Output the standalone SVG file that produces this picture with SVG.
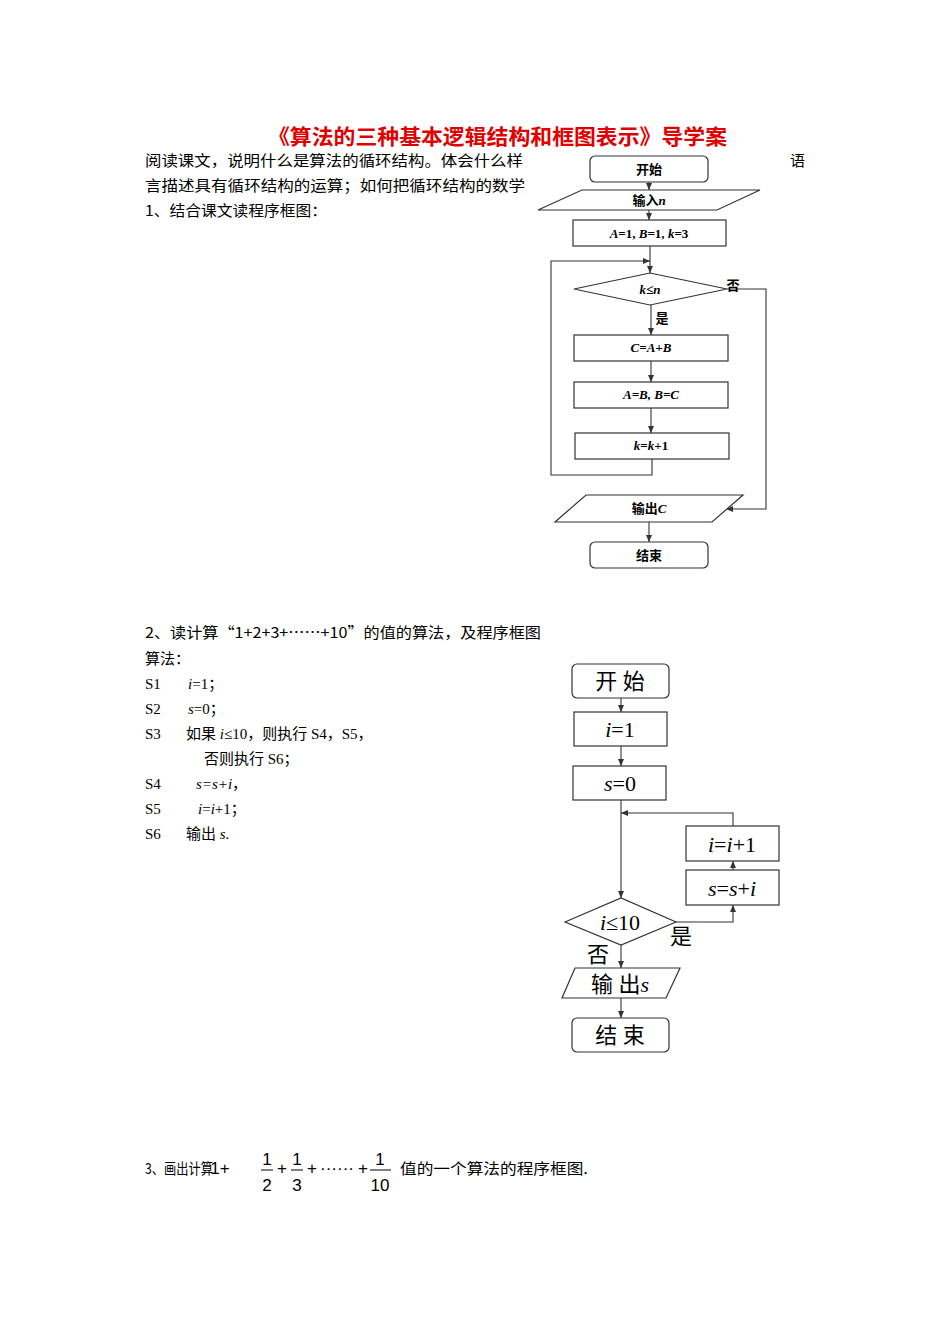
<svg xmlns="http://www.w3.org/2000/svg" width="950" height="1344" viewBox="0 0 950 1344">
<style>
.t{font-family:"Noto Sans CJK SC","Noto Sans",sans-serif;font-size:15px;fill:#000}
.s{font-family:"Liberation Serif","Noto Sans CJK SC",serif;font-size:15px;fill:#000}
.b{fill:#fff;stroke:#333;stroke-width:1.2}
.l{fill:none;stroke:#333;stroke-width:1.1}
.n1{font-family:"Liberation Serif","Noto Sans CJK SC",serif;font-size:13px;font-weight:bold;text-anchor:middle}
.n2{font-family:"Liberation Serif","Noto Sans CJK SC",serif;font-size:22px;text-anchor:middle}
</style>
<defs><marker id="a" markerWidth="8" markerHeight="8" refX="7" refY="4" orient="auto" markerUnits="userSpaceOnUse"><path d="M0,1 L7,4 L0,7Z" fill="#333"/></marker></defs>
<text x="268" y="144" textLength="459" lengthAdjust="spacingAndGlyphs" style="font-family:'Noto Sans CJK SC',sans-serif;font-size:21px;font-weight:bold;fill:#e00000">《算法的三种基本逻辑结构和框图表示》导学案</text>
<text class="t" x="145" y="166" textLength="378" lengthAdjust="spacingAndGlyphs">阅读课文，说明什么是算法的循环结构。体会什么样</text>
<text class="t" x="790" y="166">语</text>
<text class="t" x="145" y="191" textLength="380" lengthAdjust="spacingAndGlyphs">言描述具有循环结构的运算；如何把循环结构的数学</text>
<text class="t" x="145" y="216" textLength="182" lengthAdjust="spacingAndGlyphs">1、结合课文读程序框图：</text>
<g id="flow1-connectors">
<path class="l" d="M649,182V190" marker-end="url(#a)"/>
<path class="l" d="M649,210V220" marker-end="url(#a)"/>
<path class="l" d="M650,246V273" marker-end="url(#a)"/>
<path class="l" d="M652,459V475H551V261H650" marker-end="url(#a)"/>
<path class="l" d="M651,305V335" marker-end="url(#a)"/>
<path class="l" d="M651,361V382" marker-end="url(#a)"/>
<path class="l" d="M651,408V433" marker-end="url(#a)"/>
<path class="l" d="M727,289H766V509H726" marker-end="url(#a)"/>
<path class="l" d="M649,522V542" marker-end="url(#a)"/>
</g>
<g id="f1-start"><rect class="b" x="590" y="156" width="118" height="26" rx="5"/><text class="n1" x="649" y="174">开始</text></g>
<g id="f1-input"><polygon class="b" points="582,190 760,190 717,210 538,210"/><text class="n1" x="649" y="205">输入<tspan font-style="italic">n</tspan></text></g>
<g id="f1-init"><rect class="b" x="573" y="220" width="153" height="26"/><text class="n1" x="649" y="238"><tspan font-style="italic">A</tspan>=1, <tspan font-style="italic">B</tspan>=1, <tspan font-style="italic">k</tspan>=3</text></g>
<g id="f1-cond"><polygon class="b" points="574,289 650,273 727,289 650,305"/><text class="n1" x="650" y="294" font-style="italic">k≤n</text><text class="n1" x="733" y="290">否</text><text class="n1" x="662" y="323">是</text></g>
<g id="f1-c"><rect class="b" x="574" y="335" width="154" height="26"/><text class="n1" x="651" y="352" font-style="italic">C=A+B</text></g>
<g id="f1-ab"><rect class="b" x="574" y="382" width="154" height="26"/><text class="n1" x="651" y="399" font-style="italic">A=B, B=C</text></g>
<g id="f1-k"><rect class="b" x="575" y="433" width="154" height="26"/><text class="n1" x="651" y="450"><tspan font-style="italic">k</tspan>=<tspan font-style="italic">k</tspan>+1</text></g>
<g id="f1-out"><polygon class="b" points="586,495 743,495 712,522 555,522"/><text class="n1" x="649" y="513">输出<tspan font-style="italic">C</tspan></text></g>
<g id="f1-end"><rect class="b" x="590" y="542" width="118" height="26" rx="5"/><text class="n1" x="649" y="560">结束</text></g>

<text class="t" x="145" y="638" textLength="396" lengthAdjust="spacingAndGlyphs">2、读计算“1+2+3+……+10”的值的算法，及程序框图</text>
<text class="t" x="145" y="664">算法：</text>
<text class="s" x="145" y="689">S1<tspan x="188" font-style="italic">i</tspan>=1；</text>
<text class="s" x="145" y="714">S2<tspan x="188" font-style="italic">s</tspan>=0；</text>
<text class="s" x="145" y="739">S3<tspan x="186">如果 </tspan><tspan font-style="italic">i</tspan>≤10，则执行 S4，S5，</text>
<text class="s" x="204" y="764">否则执行 S6；</text>
<text class="s" x="145" y="789">S4<tspan x="196" font-style="italic">s=s+i</tspan>，</text>
<text class="s" x="145" y="814">S5<tspan x="198" font-style="italic">i</tspan>=<tspan font-style="italic">i</tspan>+1；</text>
<text class="s" x="145" y="839">S6<tspan x="186">输出 </tspan><tspan font-style="italic">s</tspan>.</text>

<g id="flow2-connectors">
<path class="l" d="M621,698V712" marker-end="url(#a)"/>
<path class="l" d="M621,746V766" marker-end="url(#a)"/>
<path class="l" d="M621,800V898" marker-end="url(#a)"/>
<path class="l" d="M733,826V813H621" marker-end="url(#a)"/>
<path class="l" d="M676,922H733V905" marker-end="url(#a)"/>
<path class="l" d="M733,870V861" marker-end="url(#a)"/>
<path class="l" d="M621,945V968" marker-end="url(#a)"/>
<path class="l" d="M621,998V1018" marker-end="url(#a)"/>
</g>
<g id="f2-start"><rect class="b" x="572" y="664" width="97" height="34" rx="5"/><text class="n2" x="620" y="689">开 始</text></g>
<g id="f2-i"><rect class="b" x="574" y="712" width="93" height="34"/><text class="n2" x="620" y="737"><tspan font-style="italic">i</tspan>=1</text></g>
<g id="f2-s"><rect class="b" x="573" y="766" width="93" height="34"/><text class="n2" x="620" y="791"><tspan font-style="italic">s</tspan>=0</text></g>
<g id="f2-inc"><rect class="b" x="686" y="826" width="93" height="35"/><text class="n2" x="732" y="852"><tspan font-style="italic">i</tspan>=<tspan font-style="italic">i</tspan>+1</text></g>
<g id="f2-sum"><rect class="b" x="686" y="870" width="93" height="35"/><text class="n2" x="732" y="896"><tspan font-style="italic">s</tspan>=<tspan font-style="italic">s</tspan>+<tspan font-style="italic">i</tspan></text></g>
<g id="f2-cond"><polygon class="b" points="565,922 621,898 676,922 621,945"/><text class="n2" x="620" y="930"><tspan font-style="italic">i</tspan>≤10</text><text class="n2" x="681" y="944">是</text><text class="n2" x="598" y="962">否</text></g>
<g id="f2-out"><polygon class="b" points="575,968 680,968 666,998 562,998"/><text class="n2" x="620" y="992">输 出<tspan font-style="italic">s</tspan></text></g>
<g id="f2-end"><rect class="b" x="572" y="1018" width="97" height="34" rx="5"/><text class="n2" x="620" y="1043">结 束</text></g>

<g id="q3">
<text class="t" x="145" y="1174" textLength="68" lengthAdjust="spacingAndGlyphs">3、画出计算</text>
<g style="font-family:'Liberation Sans',sans-serif;font-size:17px" text-anchor="middle">
<text x="220" y="1174">1+</text>
<text x="267" y="1165">1</text><text x="267" y="1191">2</text>
<text x="282" y="1174">+</text>
<text x="297" y="1165">1</text><text x="297" y="1191">3</text>
<text x="312" y="1174">+</text><text x="337" y="1174">······</text><text x="363" y="1174">+</text>
<text x="380" y="1165">1</text><text x="380" y="1191">10</text>
</g>
<path d="M261,1170H273M291,1170H303M370,1170H391" stroke="#000" stroke-width="1"/>
<text class="t" x="400" y="1174" textLength="188" lengthAdjust="spacingAndGlyphs">值的一个算法的程序框图.</text>
</g>
</svg>
